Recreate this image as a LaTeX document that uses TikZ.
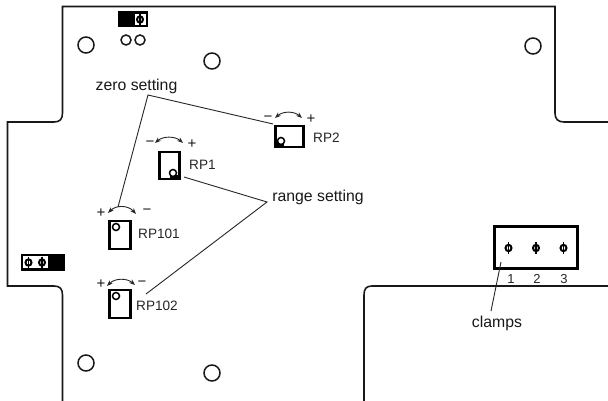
\documentclass[tikz,border=0pt]{standalone}
\usepackage{fontspec}
\setmainfont{Liberation Sans}
\usetikzlibrary{arrows.meta}
\tikzset{
  board/.style={line width=1.6pt,black!90},
  hole/.style={draw=black!90,line width=1.5pt,circle,minimum size=16pt,inner sep=0pt},
  smallhole/.style={draw=black!90,line width=1.5pt,circle,minimum size=10pt,inner sep=0pt},
  pot/.style={draw=black,line width=2.2pt,fill=white},
  wiper/.style={draw=black,line width=1.5pt,fill=white,circle,minimum size=7pt,inner sep=0pt},
  leader/.style={draw=black!85,line width=0.9pt},
  turn/.style={draw=black!85,line width=0.9pt,{Stealth[length=6pt,width=4.5pt]}-{Stealth[length=6pt,width=4.5pt]}},
  lab/.style={inner sep=0pt,font=\fontsize{15.8}{16}\selectfont,text=black!90},
  rp/.style={inner sep=0pt,anchor=west,font=\fontsize{13.6}{14}\selectfont,text=black!85},
  sign/.style={inner sep=0pt,font=\fontsize{15}{15}\selectfont,text=black!90},
  num/.style={inner sep=0pt,font=\fontsize{13}{13}\selectfont,text=black!85},
  term/.pic={
    \draw[black,line width=1.7pt] (0,-6)--(0,6);
    \draw[black,line width=2pt] (0,0) ellipse (3pt and 3.2pt);
  }
}
\begin{document}
\begin{tikzpicture}[x=1pt,y=-1pt]
\useasboundingbox[fill=white] (0,0) rectangle (608,401);
% board outline
\draw[board] (62.5,401) -- (62.5,295) .. controls (62.5,289) and (60,286) .. (54,286)
  -- (7.5,286) -- (7.5,122) -- (54,122) .. controls (60,122) and (62.5,119) .. (62.5,113)
  -- (62.5,6.5) -- (555,6.5) -- (555,113) .. controls (555,119) and (558,122) .. (564,122) -- (608,122);
\draw[board] (608,286) -- (372,286) .. controls (366,286) and (364,289) .. (364,295) -- (364,401);
% holes
\node[hole] (h1) at (86,45) {};
\node[hole] (h2) at (212,61) {};
\node[hole] (h3) at (533,46) {};
\node[hole] (h4) at (86,363) {};
\node[hole] (h5) at (212,373) {};
\node[smallhole] (s1) at (126,40) {};
\node[smallhole] (s2) at (140,40) {};
% terminal blocks
\fill[black] (118,11) rectangle (148,27);
\fill[white] (135,14) rectangle (146,25);
\pic at (140,19.5) {term};
\fill[black] (21,254) rectangle (65,271);
\fill[white] (23,256) rectangle (48,268);
\pic at (28.5,262.5) {term};
\pic at (42,262.5) {term};
% clamps box
\draw[black,line width=3pt,fill=white] (494.5,226.5) rectangle (577.5,268);
\pic at (508.5,248) {term};
\pic at (536,248) {term};
\pic at (563.5,248) {term};
\node[num] (n1) at (511,279) {1};
\node[num] (n2) at (537,279) {2};
\node[num] (n3) at (564,279) {3};
% potentiometers
\draw[pot] (159.5,152) rectangle (179.5,179);
\fill[black] (170,175) rectangle (180,180);
\node[wiper] (w1) at (173,173) {};
\draw[pot] (275.5,126) rectangle (303.5,147);
\fill[black] (275,141) rectangle (284,148);
\node[wiper] (w2) at (281,141) {};
\draw[pot] (109.5,221) rectangle (130.5,249);
\node[wiper] (w3) at (116,227) {};
\draw[pot] (109.5,290) rectangle (130.5,318);
\node[wiper] (w4) at (116,296) {};
% adjustment arcs
\draw[turn] (155,143) .. controls (163,136) and (175,136) .. (183,143);
\draw[turn] (275,118) .. controls (283,111) and (294,111) .. (302,118);
\draw[turn] (108,213) .. controls (116,205) and (128,205) .. (136,214);
\draw[turn] (107,286) .. controls (115,278) and (127,278) .. (135,285);
% signs
\node[sign] (a1) at (150,144) {−};
\node[sign] (a2) at (192,144) {+};
\node[sign] (b1) at (268,119) {−};
\node[sign] (b2) at (311,119) {+};
\node[sign] (c1) at (101,213) {+};
\node[sign] (c2) at (147,212) {−};
\node[sign] (d1) at (101,284) {+};
\node[sign] (d2) at (142,284) {−};
% labels
\node[rp] (RP1) at (189,165) {RP1};
\node[rp] (RP2) at (313,138) {RP2};
\node[rp] (RP101) at (138,234) {RP101};
\node[rp] (RP102) at (136,306) {RP102};
\node[lab] (zero) at (136.5,86) {zero setting};
\node[lab] (range) at (318,197) {range setting};
\node[lab] (clamps) at (497,323) {clamps};
% leaders
\coordinate (z0) at (148,95);
\coordinate (z1) at (273,124);
\coordinate (z2) at (118,207);
\coordinate (r0) at (267,202);
\coordinate (r1) at (184,177);
\coordinate (r2) at (146,294);
\coordinate (c0) at (501,262);
\coordinate (c3) at (491,311);
\draw[leader] (z1) -- (z0) -- (z2);
\draw[leader] (r1) -- (r0) -- (r2);
\draw[leader] (c0) -- (c3);
\end{tikzpicture}
\end{document}
